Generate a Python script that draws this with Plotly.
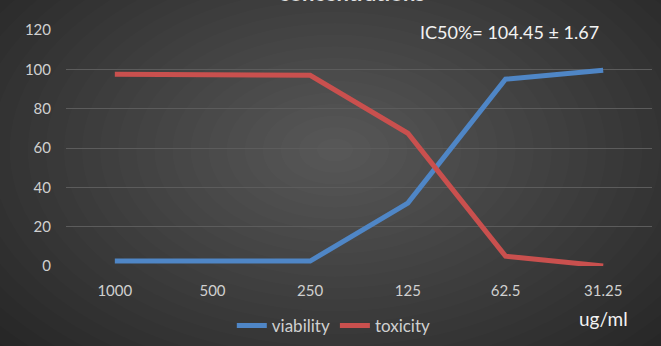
import plotly.graph_objects as go

categories = ["1000", "500", "250", "125", "62.5", "31.25"]
viability = [2.5, 2.5, 2.5, 32, 95, 99.5]
toxicity = [97.5, 97, 97, 67.5, 5, 0]
y_ticks = [0, 20, 40, 60, 80, 100, 120]

W, H = 661, 346
L, R, T, B = 66, 9, 30, 80
FONT = "Lato, Open Sans, sans-serif"

fig = go.Figure()
fig.add_trace(go.Scatter(x=categories, y=viability, name="viability", mode="lines",
                         line=dict(color="#4f86c6", width=5)))
fig.add_trace(go.Scatter(x=categories, y=toxicity, name="toxicity", mode="lines",
                         line=dict(color="#c9504e", width=5)))

# radial-ish background gradient with stacked translucent ellipses
pw, ph = W - L - R, H - T - B
cx, cy = 335, 150
shapes = []
n = 26
for i in range(n):
    f = 1 - i / n
    rx, ry = 470 * f, 300 * f
    x0 = (cx - rx - L) / pw
    x1 = (cx + rx - L) / pw
    y0 = (H - B - (cy + ry)) / ph
    y1 = (H - B - (cy - ry)) / ph
    shapes.append(dict(type="circle", xref="paper", yref="paper", x0=x0, x1=x1, y0=y0, y1=y1,
                       fillcolor="rgba(255,255,255,0.0105)", line=dict(width=0), layer="below"))

fig.update_layout(
    width=W, height=H,
    margin=dict(l=L, r=R, t=T, b=B),
    paper_bgcolor="#232323",
    plot_bgcolor="rgba(0,0,0,0)",
    shapes=shapes,
    font=dict(family=FONT, color="#d0d0d0", size=14),
    showlegend=True,
    legend=dict(orientation="h", xref="container", yref="container", x=0.505, y=0.058,
                xanchor="center", yanchor="middle", font=dict(size=17, color="#d0d0d0"),
                bgcolor="rgba(0,0,0,0)", itemwidth=30, tracegroupgap=0),
    xaxis=dict(type="category", categoryarray=categories, showgrid=False, zeroline=False,
               showline=False, ticks="", ticklabelstandoff=14,
               tickfont=dict(size=15, color="#d0d0d0"), range=[-0.5, 5.5]),
    yaxis=dict(range=[0, 120], tickvals=y_ticks, showgrid=True, gridcolor="#5c5c5c", gridwidth=1,
               zeroline=False, showline=False, ticks="", ticklabelstandoff=14,
               tickfont=dict(size=15, color="#d0d0d0")),
    annotations=[
        dict(text="IC50%= 104.45 ± 1.67", xref="paper", yref="paper",
             x=(510 - L) / pw, y=(H - B - 32) / ph, showarrow=False,
             font=dict(size=18, color="#f2f2f2", family=FONT), xanchor="center", yanchor="middle"),
        dict(text="ug/ml", xref="paper", yref="paper",
             x=(603 - L) / pw, y=(H - B - 318) / ph, showarrow=False,
             font=dict(size=19, color="#f2f2f2", family=FONT), xanchor="center", yanchor="middle"),
        dict(text="<b>concentrations</b>", xref="paper", yref="paper",
             x=(352 - L) / pw, y=(H - B - 7.8) / ph, showarrow=False,
             font=dict(size=22, color="#e0e0e0", family=FONT), xanchor="center", yanchor="bottom"),
    ],
)

fig.write_html("out.html")
